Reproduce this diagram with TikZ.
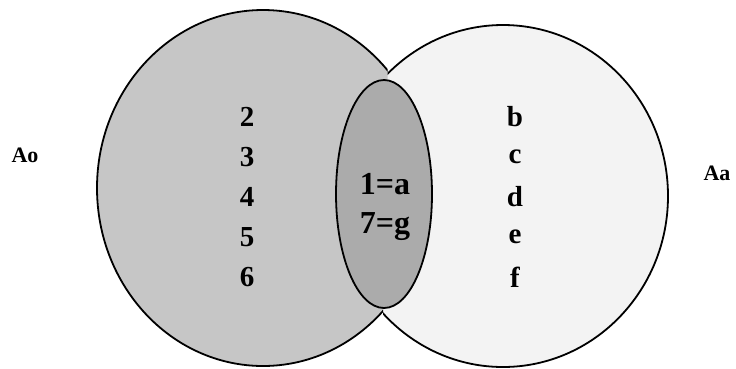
\documentclass[tikz,border=0pt]{standalone}
\usepackage{fontspec}
\setmainfont{Liberation Serif}
\usetikzlibrary{positioning}
\definecolor{vnleft}{HTML}{C6C6C6}
\definecolor{vnright}{HTML}{F3F3F3}
\definecolor{vnmid}{HTML}{ABABAB}
\tikzset{
  ring/.style={draw=black,line width=1.8pt},
  elem/.style={font=\fontsize{29}{31}\selectfont\bfseries,inner sep=0pt},
  pair/.style={font=\fontsize{32}{34}\selectfont\bfseries,inner sep=0pt,anchor=base},
  setname/.style={font=\fontsize{22}{24}\selectfont\bfseries,inner sep=0pt},
}
\begin{document}
\begin{tikzpicture}[x=1pt,y=-1pt]
  \useasboundingbox (0,0) rectangle (736,368);
  \fill[white] (0,0) rectangle (736,368);
  % the two sets
  \fill[vnleft] (263,188) ellipse [x radius=166pt, y radius=178pt];
  \begin{scope}
    \clip (389,0) -- (382,368) -- (736,368) -- (736,0) -- cycle;
    \fill[vnright] (503,196) ellipse [x radius=165pt, y radius=171pt];
    \draw[ring] (503,196) ellipse [x radius=165pt, y radius=171pt];
  \end{scope}
  \begin{scope}
    \clip (389,0) -- (382,368) -- (0,368) -- (0,0) -- cycle;
    \draw[ring] (263,188) ellipse [x radius=166pt, y radius=178pt];
  \end{scope}
  % common part
  \fill[vnmid,ring] (384,194) ellipse [x radius=48pt, y radius=114pt];
  % elements
  \foreach \t [count=\i] in {2,...,6}
    \node[elem] (o\t) at (247,77+40*\i) {\t};
  \foreach \t [count=\i] in {b,c,d,e,f}
    \node[elem] (a\t) at (515,77+40*\i) {\t};
  \node[pair] (i1) at (385,194) {1=a};
  \node[pair] (i7) at (385,233) {7=g};
  \node[setname] (Ao) at (25,155) {Ao};
  \node[setname] (Aa) at (717,173) {Aa};
\end{tikzpicture}
\end{document}
